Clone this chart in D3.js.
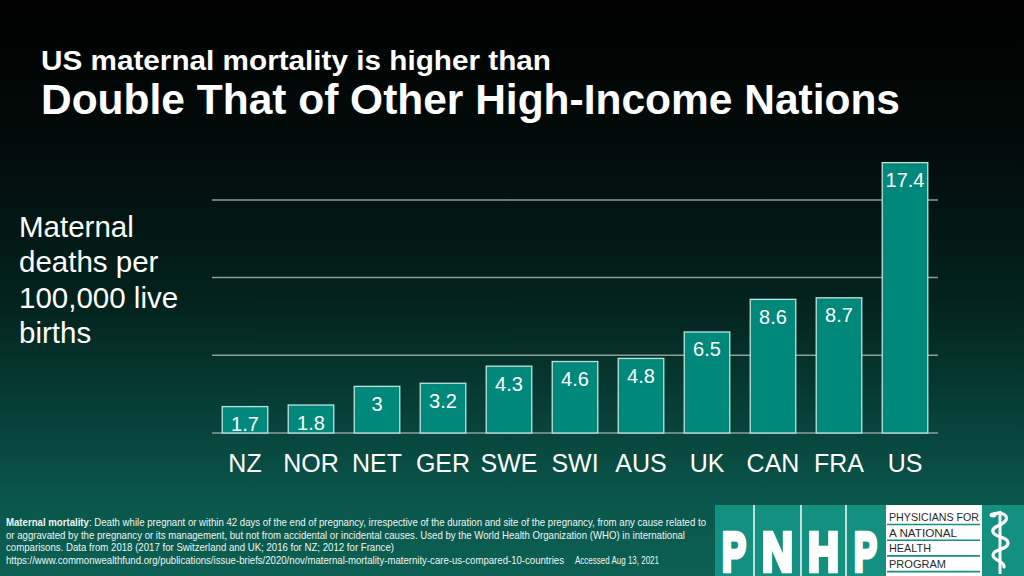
<!DOCTYPE html>
<html>
<head>
<meta charset="utf-8">
<script src="https://cdn.jsdelivr.net/npm/d3@7"></script>
<style>
  html, body { margin: 0; padding: 0; background: #000; }
  svg { display: block; font-family: "Liberation Sans", Arial, sans-serif; }
</style>
</head>
<body>
<div id="chart"></div>
<script>
// chart data
var countries = ["NZ", "NOR", "NET", "GER", "SWE", "SWI", "AUS", "UK", "CAN", "FRA", "US"];
var deaths = [1.7, 1.8, 3, 3.2, 4.3, 4.6, 4.8, 6.5, 8.6, 8.7, 17.4];
var gridValues = [0, 5, 10, 15];
var axisLabel = ["Maternal", "deaths per", "100,000 live", "births"];
var footLines = [
  ": Death while pregnant or within 42 days of the end of pregnancy, irrespective of the duration and site of the pregnancy, from any cause related to",
  "or aggravated by the pregnancy or its management, but not from accidental or incidental causes. Used by the World Health Organization (WHO) in international",
  "comparisons. Data from 2018 (2017 for Switzerland and UK; 2016 for NZ; 2012 for France)"
];
var sourceUrl = "https://www.commonwealthfund.org/publications/issue-briefs/2020/nov/maternal-mortality-maternity-care-us-compared-10-countries";
var accessed = "Accessed Aug 13, 2021";
var logoLetters = ["P", "N", "H", "P"];
var logoWords = ["PHYSICIANS FOR", "A NATIONAL", "HEALTH", "PROGRAM"];

var W = 1024, H = 576;

var svg = d3.select("#chart")
  .append("svg")
  .attr("width", W)
  .attr("height", H);

/****** BACKGROUND ******/
var defs = svg.append("defs");
var grad = defs.append("linearGradient")
  .attr("id", "bg")
  .attr("x1", 0).attr("y1", 0).attr("x2", 0).attr("y2", 1);
[[0, "#000000"], [0.26, "#020c0a"], [0.52, "#03221d"], [0.69, "#063c34"], [0.87, "#0a564b"], [1, "#0c6053"]]
  .forEach(function(s) {
    grad.append("stop").attr("offset", s[0]).attr("stop-color", s[1]);
  });

svg.append("rect")
  .attr("width", W)
  .attr("height", H)
  .attr("fill", "url(#bg)");

/****** TITLE ******/
svg.append("text")
  .attr("x", 41).attr("y", 70)
  .attr("fill", "#fff")
  .attr("textLength", 510)
  .attr("lengthAdjust", "spacingAndGlyphs")
  .style("font-size", "28px")
  .style("font-weight", "bold")
  .text("US maternal mortality is higher than");

svg.append("text")
  .attr("x", 41).attr("y", 114)
  .attr("fill", "#fff")
  .attr("textLength", 859)
  .attr("lengthAdjust", "spacingAndGlyphs")
  .style("font-size", "42px")
  .style("font-weight", "bold")
  .text("Double That of Other High-Income Nations");

/****** AXIS LABEL ******/
svg.append("g")
  .selectAll("text")
  .data(axisLabel)
  .enter()
  .append("text")
    .attr("x", 19)
    .attr("y", function(d, i) { return 236.7 + i * 35.5; })
    .attr("fill", "#fff")
    .style("font-size", "29.5px")
    .text(function(d) { return d; });

/****** SCALES ******/
var x = d3.scaleBand()
  .domain(countries)
  .range([212, 938])
  .paddingInner(0.31)
  .paddingOuter(0.155);

var y = d3.scaleLinear()
  .domain([0, 20])
  .range([433, 122.2]);

// gridlines
svg.append("g")
  .selectAll("line")
  .data(gridValues)
  .enter()
  .append("line")
    .attr("x1", 212).attr("x2", 938)
    .attr("y1", function(d) { return y(d); })
    .attr("y2", function(d) { return y(d); })
    .attr("stroke", "#8c9c99")
    .attr("stroke-width", 1.5);

// bars
var rows = countries.map(function(c, i) { return {name: c, value: deaths[i]}; });

svg.append("g")
  .selectAll("rect")
  .data(rows)
  .enter()
  .append("rect")
    .attr("x", function(d) { return x(d.name); })
    .attr("y", function(d) { return y(d.value); })
    .attr("width", x.bandwidth())
    .attr("height", function(d) { return y(0) - y(d.value); })
    .attr("fill", "#00897a")
    .attr("stroke", "#bfe3dc")
    .attr("stroke-width", 1.3);

// value labels
svg.append("g")
  .selectAll("text")
  .data(rows)
  .enter()
  .append("text")
    .attr("x", function(d) { return x(d.name) + x.bandwidth() / 2; })
    .attr("y", function(d) { return y(d.value) + 24.5; })
    .attr("text-anchor", "middle")
    .attr("fill", "#fff")
    .style("font-size", "20px")
    .text(function(d) { return d.value; });

// category labels
svg.append("g")
  .selectAll("text")
  .data(countries)
  .enter()
  .append("text")
    .attr("x", function(d) { return x(d) + x.bandwidth() / 2; })
    .attr("y", 472)
    .attr("text-anchor", "middle")
    .attr("fill", "#fff")
    .style("font-size", "25px")
    .text(function(d) { return d; });

/****** FOOTNOTE ******/
var footWidths = [700, 679, 388];
var foot = svg.append("g").attr("fill", "#eef5f3").style("font-size", "10.5px");
footLines.forEach(function(line, i) {
  var t = foot.append("text")
    .attr("x", 6)
    .attr("y", 526 + i * 12.6)
    .attr("textLength", footWidths[i])
    .attr("lengthAdjust", "spacingAndGlyphs");
  if (i === 0) {
    t.append("tspan").style("font-weight", "bold").text("Maternal mortality");
  }
  t.append("tspan").text(line);
});
foot.append("text")
  .attr("x", 6).attr("y", 563.8)
  .attr("textLength", 558)
  .attr("lengthAdjust", "spacingAndGlyphs")
  .text(sourceUrl);
foot.append("text")
  .attr("x", 575).attr("y", 563.8)
  .attr("textLength", 84)
  .attr("lengthAdjust", "spacingAndGlyphs")
  .text(accessed);

/****** LOGO ******/
var logo = svg.append("g");
logo.append("rect")
  .attr("x", 715).attr("y", 505)
  .attr("width", W - 715).attr("height", H - 505)
  .attr("fill", "#13907f");

var letterBox = [[722, 24], [762, 31], [808, 31], [854, 23]];
logo.selectAll("text.letter")
  .data(logoLetters)
  .enter()
  .append("text")
    .attr("class", "letter")
    .attr("x", function(d, i) { return letterBox[i][0]; })
    .attr("y", 571)
    .attr("textLength", function(d, i) { return letterBox[i][1]; })
    .attr("lengthAdjust", "spacingAndGlyphs")
    .attr("fill", "#fff")
    .attr("stroke", "#fff")
    .attr("stroke-width", 4.5)
    .attr("stroke-linejoin", "miter")
    .style("font-size", "56px")
    .style("font-weight", "bold")
    .text(function(d) { return d; });

// thin dividers between letter tiles
[754, 801, 846].forEach(function(lx) {
  logo.append("rect")
    .attr("x", lx - 0.8).attr("y", 505)
    .attr("width", 1.6).attr("height", H - 505)
    .attr("fill", "#e8f4f1");
});

logo.append("rect")
  .attr("x", 886).attr("y", 505)
  .attr("width", 96).attr("height", H - 505)
  .attr("fill", "#fff");

var wordWidths = [90, 68, 42, 57];
logo.selectAll("text.word")
  .data(logoWords)
  .enter()
  .append("text")
    .attr("class", "word")
    .attr("x", 889)
    .attr("y", function(d, i) { return 521 + i * 15.6; })
    .attr("textLength", function(d, i) { return wordWidths[i]; })
    .attr("lengthAdjust", "spacingAndGlyphs")
    .attr("fill", "#2a2a2a")
    .style("font-size", "11.5px")
    .text(function(d) { return d; });

logo.selectAll("line.sep")
  .data(logoWords)
  .enter()
  .append("line")
    .attr("class", "sep")
    .attr("x1", 887).attr("x2", 980)
    .attr("y1", function(d, i) { return 524.5 + i * 15.7; })
    .attr("y2", function(d, i) { return 524.5 + i * 15.7; })
    .attr("stroke", "#13907f")
    .attr("stroke-width", 1.6);

// rod with snake
logo.append("line")
  .attr("x1", 1000).attr("x2", 1000)
  .attr("y1", 511).attr("y2", 574)
  .attr("stroke", "#fff")
  .attr("stroke-width", 3);
logo.append("path")
  .attr("d", "M992,515 C998,511 1009,514 1006,520 C1003,526 991,526 993,532 C995,538 1008,536 1008,543 C1008,550 993,549 993,555 C993,561 1005,561 1004,567")
  .attr("fill", "none")
  .attr("stroke", "#fff")
  .attr("stroke-width", 3.2)
  .attr("stroke-linecap", "round");
logo.append("ellipse")
  .attr("cx", 993).attr("cy", 515)
  .attr("rx", 3.5).attr("ry", 2.5)
  .attr("fill", "#fff");
</script>
</body>
</html>
